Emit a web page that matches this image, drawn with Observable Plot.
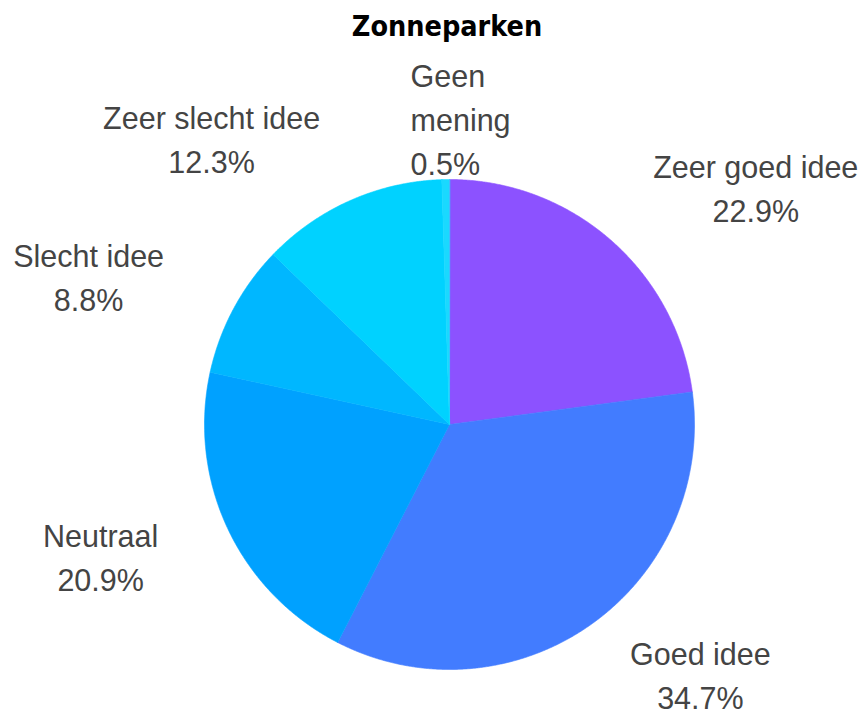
<!DOCTYPE html>
<html><head><meta charset="utf-8">
<script src="https://cdn.jsdelivr.net/npm/d3@7"></script>
<script src="https://cdn.jsdelivr.net/npm/@observablehq/plot@0.6"></script>
<style>
body{margin:0;background:#fff;width:867px;height:715px;overflow:hidden;position:relative;}
#title{position:absolute;left:447px;top:3px;transform:translateX(-50%);white-space:nowrap;
  font-family:"DejaVu Sans Condensed","DejaVu Sans",sans-serif;font-stretch:condensed;font-weight:bold;
  font-size:28.5px;line-height:48px;color:#000;}
#chart{position:absolute;left:0;top:48px;}
</style></head><body>
<div id="title">Zonneparken</div>
<div id="chart"></div>
<script>
const categories = ["Zeer goed idee", "Goed idee", "Neutraal", "Slecht idee", "Zeer slecht idee", "Geen mening"];
const percentages = [22.9, 34.7, 20.9, 8.8, 12.3, 0.5];
const colors = ["#8c52ff", "#427cff", "#00a1ff", "#00b7ff", "#00d2ff", "#1ad9ff"];

// label layout in pie-radius units relative to the centre (layout, not data)
const labelLayout = {
  "Zeer goed idee":   {ux: 1.250, uy: 0.972, anchor: "middle"},
  "Goed idee":        {ux: 1.024, uy: -1.016, anchor: "middle"},
  "Neutraal":         {ux: -1.424, uy: -0.534, anchor: "middle"},
  "Slecht idee":      {ux: -1.473, uy: 0.609, anchor: "middle"},
  "Zeer slecht idee": {ux: -0.971, uy: 1.172, anchor: "middle"},
  "Geen mening":      {ux: -0.159, uy: 1.256, anchor: "start"}
};

const rows = categories.map((c, i) => ({category: c, value: percentages[i], color: colors[i]}));
const arcs = d3.pie().sort(null).value(d => d.value).startAngle(0).endAngle(2 * Math.PI)(rows);

const polyPoints = [];
arcs.forEach(a => {
  const key = a.data.category;
  polyPoints.push({key, x: 0, y: 0});
  const n = Math.max(2, Math.ceil((a.endAngle - a.startAngle) / (Math.PI / 720)));
  for (let k = 0; k <= n; k++) {
    const t = a.startAngle + (a.endAngle - a.startAngle) * k / n;
    polyPoints.push({key, x: Math.sin(t), y: Math.cos(t)});
  }
});

const labels = rows.map(r => ({
  text: (r.category === "Geen mening" ? r.category.replace(" ", "\n") : r.category) + "\n" + r.value.toFixed(1) + "%",
  x: labelLayout[r.category].ux,
  y: labelLayout[r.category].uy,
  anchor: labelLayout[r.category].anchor
}));

const cx = 449, cy = 376, R = 245;
const textStyle = {fill: "#444", fontSize: 30.5, fontFamily: "'Liberation Sans', Arial, sans-serif", lineHeight: 1.443, lineAnchor: "middle"};

const chart = Plot.plot({
  width: 867,
  height: 667,
  margin: 0,
  style: {background: "#fff", overflow: "visible"},
  x: {domain: [-1, 1], range: [cx - R, cx + R], axis: null},
  y: {domain: [-1, 1], range: [cy + R, cy - R], axis: null},
  color: {domain: categories, range: colors},
  marks: [
    Plot.line(polyPoints, {x: "x", y: "y", z: "key", fill: "key", stroke: "key", strokeWidth: 0.6, curve: "linear-closed"}),
    Plot.text(labels.filter(d => d.anchor === "middle"), {x: "x", y: "y", text: "text", textAnchor: "middle", ...textStyle}),
    Plot.text(labels.filter(d => d.anchor === "start"), {x: "x", y: "y", text: "text", textAnchor: "start", ...textStyle})
  ]
});
document.getElementById("chart").appendChild(chart);
</script>
</body></html>
